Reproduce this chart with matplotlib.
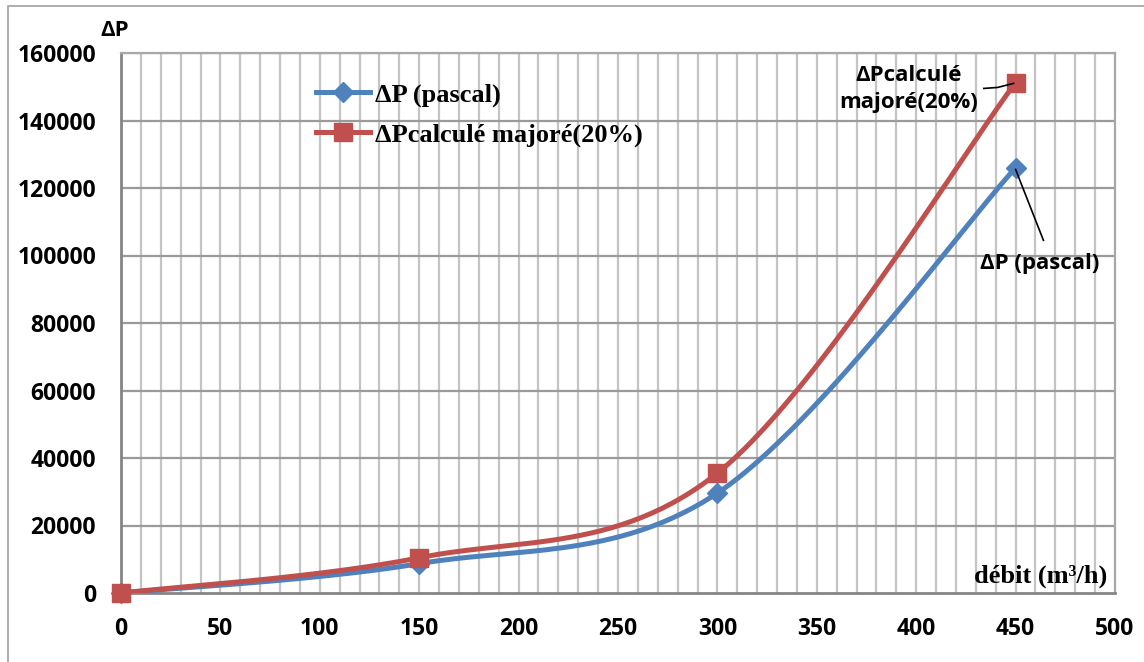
import numpy as np
import matplotlib
matplotlib.use("Agg")
import matplotlib.pyplot as plt
from matplotlib.lines import Line2D
from matplotlib.patches import Rectangle

# Data
debit = [0, 150, 300, 450]
dp_pascal = [0, 8700, 29600, 126000]
dp_majore = [0, 10440, 35520, 151200]
series_labels = ["ΔP (pascal)", "ΔPcalculé majoré(20%)"]
x_ticks = [0, 50, 100, 150, 200, 250, 300, 350, 400, 450, 500]
y_ticks = [0, 20000, 40000, 60000, 80000, 100000, 120000, 140000, 160000]

BLUE = "#4F81BD"
RED = "#C0504D"
TICKFONT = "Open Sans"
SERIF = "Liberation Serif"


def smooth(x, y, n=60):
    """Excel-like smoothed line (Catmull-Rom / cubic Bezier through points)."""
    x = np.asarray(x, float)
    y = np.asarray(y, float)
    px, py = [], []
    for i in range(len(x) - 1):
        x0, y0 = (x[i - 1], y[i - 1]) if i > 0 else (x[i], y[i])
        x3, y3 = (x[i + 2], y[i + 2]) if i + 2 < len(x) else (x[i + 1], y[i + 1])
        x1, y1 = x[i], y[i]
        x2, y2 = x[i + 1], y[i + 1]
        c1x, c1y = x1 + (x2 - x0) / 6, y1 + (y2 - y0) / 6
        c2x, c2y = x2 - (x3 - x1) / 6, y2 - (y3 - y1) / 6
        t = np.linspace(0, 1, n)
        bx = (1 - t) ** 3 * x1 + 3 * (1 - t) ** 2 * t * c1x + 3 * (1 - t) * t ** 2 * c2x + t ** 3 * x2
        by = (1 - t) ** 3 * y1 + 3 * (1 - t) ** 2 * t * c1y + 3 * (1 - t) * t ** 2 * c2y + t ** 3 * y2
        px.extend(bx)
        py.extend(by)
    return np.array(px), np.array(py)


fig = plt.figure(figsize=(11.44, 6.62), dpi=100)
fig.patch.set_facecolor("white")
# outer chart border
fig.patches.append(Rectangle((8 / 1144, -0.1), 1.2, 1 - 6 / 662 + 0.1, transform=fig.transFigure,
                             fill=False, edgecolor="#a0a0a0", linewidth=1.2))

ax = fig.add_axes([121 / 1144, 1 - 593 / 662, (1115 - 121) / 1144, (593 - 53) / 662])
ax.set_xlim(0, 500)
ax.set_ylim(0, 160000)

# grid
for xv in np.arange(10, 500, 10):
    ax.axvline(xv, color="#c4c4c4", lw=1.6, zorder=0)
for yv in y_ticks[1:]:
    ax.axhline(yv, color="#9a9a9a", lw=1.6, zorder=0.5)
for s in ax.spines.values():
    s.set_color("#a8a8a8")
    s.set_linewidth(1.6)
ax.spines["left"].set_color("#858585")
ax.spines["left"].set_linewidth(2)
ax.spines["bottom"].set_color("#858585")
ax.spines["bottom"].set_linewidth(2)

ax.set_xticks(x_ticks)
ax.set_yticks(y_ticks)
ax.tick_params(length=0)
for lab in ax.get_xticklabels() + ax.get_yticklabels():
    lab.set_fontfamily(TICKFONT)
    lab.set_fontweight("bold")
    lab.set_fontsize(16.5)
ax.tick_params(axis="y", pad=18)
ax.tick_params(axis="x", pad=17)

sx, sy = smooth(debit, dp_pascal)
ax.plot(sx, sy, color=BLUE, lw=3.6, zorder=3, solid_capstyle="round")
ax.plot(debit, dp_pascal, ls="none", marker="D", ms=10, color=BLUE, zorder=4, clip_on=False)
sx, sy = smooth(debit, dp_majore)
ax.plot(sx, sy, color=RED, lw=3.6, zorder=5, solid_capstyle="round")
ax.plot(debit, dp_majore, ls="none", marker="s", ms=13, color=RED, zorder=6, clip_on=False)

handles = [
    Line2D([], [], color=BLUE, lw=3.6, marker="D", ms=10),
    Line2D([], [], color=RED, lw=3.6, marker="s", ms=13),
]
leg = ax.legend(handles, series_labels, loc="upper left",
                bbox_to_anchor=((316 - 121) / 994, (593 - 83) / 540),
                frameon=False, borderpad=0, borderaxespad=0,
                handlelength=2.05, handletextpad=0.2, labelspacing=0.6,
                prop={"family": SERIF, "weight": "bold", "size": 19})

# axis titles
fig.text(115 / 1144, 1 - 30 / 662, "ΔP", family=TICKFONT, weight="bold", fontsize=16,
         ha="center", va="center")
ax.text(0.992, (593 - 583) / 540, "débit (m³/h)", transform=ax.transAxes, ha="right",
        va="baseline", family=SERIF, weight="bold", fontsize=19)

# data labels with leader lines
ax.text(396, 149300, "ΔPcalculé\nmajoré(20%)", ha="center", va="center", family=TICKFONT,
        weight="bold", fontsize=16, linespacing=1.4, zorder=7)
ax.plot([434, 441, 449], [149500, 149800, 151000], color="black", lw=1.2, zorder=7)
ax.text(462, 97500, "ΔP (pascal)", ha="center", va="center", family=TICKFONT,
        weight="bold", fontsize=16, zorder=7)
ax.plot([464, 450], [104500, 125500], color="black", lw=1.2, zorder=7)

fig.savefig("out.png", dpi=100)
